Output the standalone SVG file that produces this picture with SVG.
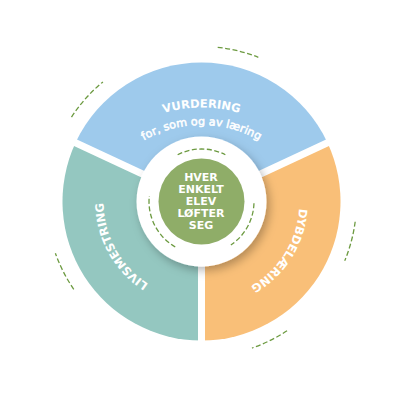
<svg xmlns="http://www.w3.org/2000/svg" width="406" height="406" viewBox="0 0 406 406">
<defs>
<style>
.lbl{fill:#fff;font-family:"DejaVu Sans","Liberation Sans",sans-serif;font-weight:700;font-size:11.5px}
.sub{fill:#fff;font-family:"DejaVu Sans","Liberation Sans",sans-serif;font-weight:400;font-size:11.2px;stroke:#fff;stroke-width:0.5}
.ctr{fill:#fff;font-family:"DejaVu Sans","Liberation Sans",sans-serif;font-weight:700;font-size:11px;text-anchor:middle}
.dash{fill:none;stroke:#6c9a40;stroke-width:1.3;stroke-dasharray:5 2.5}
.gap{stroke:#fff;stroke-width:7}
</style>
<filter id="sh" x="-30%" y="-30%" width="160%" height="160%">
<feDropShadow dx="3" dy="4" stdDeviation="5" flood-color="#000" flood-opacity="0.28"/>
</filter>
<path id="pV" d="M107.81,146.31 A132.5 132.5 0 0 1 295.19,146.31"/>
<path id="pF" d="M120.18,158.68 A115 115 0 0 1 282.82,158.68"/>
<path id="pL" d="M166.38,292.99 A98 98 0 0 1 105.30,182.80"/>
<path id="pD" d="M298.55,187.86 A98 98 0 0 1 231.78,294.71"/>
</defs>
<rect width="406" height="406" fill="#fff"/>
<g id="vurdering">
<path d="M201.5,201.5 L75.52,142.76 A139 139 0 0 1 327.48,142.76 Z" fill="#9ecaec"/>
</g>
<g id="dybdelaering">
<path d="M201.5,201.5 L327.48,142.76 A139 139 0 0 1 201.5,340.5 Z" fill="#f9bf78"/>
</g>
<g id="livsmestring">
<path d="M201.5,201.5 L201.5,340.5 A139 139 0 0 1 75.52,142.76 Z" fill="#94c7c0"/>
</g>
<g id="connectors">
<line class="gap" x1="201.5" y1="201.5" x2="70.09" y2="140.22"/>
<line class="gap" x1="201.5" y1="201.5" x2="332.91" y2="140.22"/>
<line class="gap" x1="201.5" y1="201.5" x2="201.5" y2="346.5"/>
</g>
<g id="center">
<circle cx="201.5" cy="201.5" r="65" fill="#fff" filter="url(#sh)"/>
<circle cx="201.5" cy="201.5" r="43" fill="#8fad68"/>
<text class="ctr" x="201" y="181">HVER</text>
<text class="ctr" x="201" y="193">ENKELT</text>
<text class="ctr" x="201" y="205">ELEV</text>
<text class="ctr" x="201" y="217">LØFTER</text>
<text class="ctr" x="201" y="229">SEG</text>
</g>
<g id="dashes">
<path class="dash" d="M177.66,154.72 A52.5 52.5 0 0 1 225.34,154.72"/>
<path class="dash" d="M175.25,246.97 A52.5 52.5 0 0 1 149.29,196.01"/>
<path class="dash" d="M253.97,203.33 A52.5 52.5 0 0 1 230.86,245.03"/>
<path class="dash" d="M217.70,47.35 A155 155 0 0 1 258.31,57.29"/>
<path class="dash" d="M71.50,117.09 A155 155 0 0 1 102.90,81.90"/>
<path class="dash" d="M73.77,289.30 A155 155 0 0 1 55.40,253.24"/>
<path class="dash" d="M355.17,221.73 A155 155 0 0 1 344.70,260.82"/>
<path class="dash" d="M287.04,330.75 A155 155 0 0 1 251.97,348.05"/>
</g>
<g id="labels">
<text class="lbl"><textPath href="#pV" startOffset="50%" text-anchor="middle">VURDERING</textPath></text>
<text class="sub"><textPath href="#pF" startOffset="50%" text-anchor="middle">for, som og av læring</textPath></text>
<text class="lbl"><textPath href="#pL" startOffset="50%" text-anchor="middle">LIVSMESTRING</textPath></text>
<text class="lbl"><textPath href="#pD" startOffset="50%" text-anchor="middle">DYBDELÆRING</textPath></text>
</g>
</svg>
